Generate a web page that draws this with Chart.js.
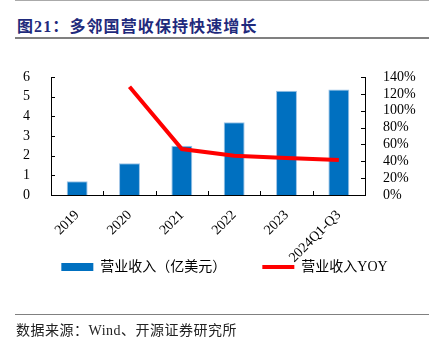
<!DOCTYPE html>
<html>
<head>
<meta charset="utf-8">
<script src="https://cdn.jsdelivr.net/npm/chart.js@4.4.1/dist/chart.umd.min.js"></script>
<style>
  body { margin: 0; background: #fff; }
  #wrap { position: relative; width: 429px; height: 339px; overflow: hidden; font-family: "Liberation Serif", "Noto Sans CJK SC", serif; }
  .rule { position: absolute; left: 15px; right: 0; background: #808080; }
  #title { position: absolute; left: 17px; top: 13px; font-size: 16px; font-weight: bold; color: #1f2a7c; letter-spacing: 1.1px; white-space: nowrap; }
  #source { position: absolute; left: 16px; top: 319px; font-size: 14px; color: #222; white-space: nowrap; letter-spacing: 0.5px; }
  #box { position: absolute; left: 0; top: 45px; width: 429px; height: 278px; }
</style>
</head>
<body>
<div id="wrap">
  <div class="rule" style="top:0;height:1px;background:#aaa"></div>
  <div id="title">图21：多邻国营收保持快速增长</div>
  <div class="rule" style="top:37px;height:2px"></div>
  <div id="box"><canvas id="c"></canvas></div>
  <div class="rule" style="top:314px;height:1px"></div>
  <div id="source">数据来源：Wind、开源证券研究所</div>
</div>
<script>
// values
const categories = ['2019', '2020', '2021', '2022', '2023', '2024Q1-Q3'];
const revenue = [0.70, 1.62, 2.50, 3.70, 5.30, 5.37];          // 亿美元
const revenueYoy = [null, 128.5, 54.5, 46.5, 44.0, 41.5];       // %
const revenueTicks = [0, 1, 2, 3, 4, 5, 6];
const yoyTicks = [0, 20, 40, 60, 80, 100, 120, 140];

const tickFont = { family: '"Liberation Serif", "Noto Sans CJK SC", serif', size: 14 };

// short tick marks drawn inside the plot, like the source chart
const innerTicks = {
  id: 'innerTicks',
  afterDatasetsDraw(chart) {
    const ctx = chart.ctx;
    const x = chart.scales.x, yl = chart.scales.y, yr = chart.scales.y1;
    const area = chart.chartArea;
    ctx.save();
    ctx.strokeStyle = '#000';
    ctx.lineWidth = 1;
    ctx.beginPath();
    yl.ticks.forEach(t => {
      const p = Math.round(yl.getPixelForValue(t.value)) + 0.5;
      ctx.moveTo(area.left, p); ctx.lineTo(area.left + 4, p);
    });
    yr.ticks.forEach(t => {
      const p = Math.round(yr.getPixelForValue(t.value)) + 0.5;
      ctx.moveTo(area.right, p); ctx.lineTo(area.right - 4, p);
    });
    const step = x.getPixelForValue(1) - x.getPixelForValue(0);
    for (let i = 1; i < categories.length; i++) {
      const p = Math.round(x.getPixelForValue(i) - step / 2) + 0.5;
      ctx.moveTo(p, area.bottom); ctx.lineTo(p, area.bottom - 4);
    }
    ctx.stroke();
    ctx.restore();
  }
};

// the legend sits up against the slanted year labels in the source
const liftLegend = {
  id: 'liftLegend',
  afterLayout(chart) {
    const lg = chart.legend;
    const h = lg.height;
    lg.top = chart.chartArea.bottom + 29;
    lg.bottom = lg.top + h;
    lg.left += 10;
    lg.right += 10;
  }
};

new Chart(document.getElementById('c'), {
  data: {
    labels: categories,
    datasets: [
      {
        type: 'line',
        label: '营业收入YOY',
        data: revenueYoy,
        yAxisID: 'y1',
        borderColor: '#ff0000',
        backgroundColor: '#ff0000',
        borderWidth: 4,
        pointRadius: 0,
        tension: 0,
        order: 0
      },
      {
        type: 'bar',
        label: '营业收入（亿美元）',
        data: revenue,
        yAxisID: 'y',
        backgroundColor: '#0070c0',
        borderColor: '#9dc3e6',
        borderWidth: { top: 1, left: 1, right: 1, bottom: 0 },
        barPercentage: 0.4,
        categoryPercentage: 1,
        order: 1
      }
    ]
  },
  plugins: [innerTicks, liftLegend],
  options: {
    responsive: true,
    maintainAspectRatio: false,
    animation: false,
    layout: { padding: { top: 32, left: 0, right: 0, bottom: 0 } },
    plugins: {
      tooltip: { enabled: false },
      legend: {
        position: 'bottom',
        reverse: true,
        labels: {
          color: '#222',
          font: { family: '"Liberation Serif", "Noto Sans CJK SC", serif', size: 14 },
          usePointStyle: true,
          pointStyleWidth: 32,
          boxHeight: 8,
          padding: 36,
          generateLabels(chart) {
            return chart.data.datasets.map((ds, i) => ({
              text: ds.label,
              datasetIndex: i,
              fillStyle: ds.type === 'bar' ? ds.backgroundColor : ds.borderColor,
              strokeStyle: ds.type === 'bar' ? ds.backgroundColor : ds.borderColor,
              lineWidth: ds.type === 'bar' ? 0 : 4,
              pointStyle: ds.type === 'bar' ? 'rect' : 'line',
              hidden: false
            }));
          }
        }
      }
    },
    scales: {
      x: {
        offset: true,
        grid: { display: false },
        border: { display: true, color: '#000', width: 1 },
        ticks: { color: '#000', font: tickFont, minRotation: 45, maxRotation: 45, padding: 4, autoSkip: false },
        afterFit(s) { s.height = 68; }
      },
      y: {
        position: 'left',
        min: 0, max: 6,
        afterBuildTicks(s) { s.ticks = revenueTicks.map(v => ({ value: v })); },
        grid: { display: false },
        border: { display: true, color: '#000', width: 1 },
        ticks: { color: '#000', font: tickFont, padding: 13, autoSkip: false },
        afterFit(s) { s.width = 51; }
      },
      y1: {
        position: 'right',
        min: 0, max: 140,
        afterBuildTicks(s) { s.ticks = yoyTicks.map(v => ({ value: v })); },
        grid: { display: false },
        border: { display: true, color: '#000', width: 1 },
        ticks: { color: '#000', font: tickFont, padding: 10, autoSkip: false, callback: v => v + '%' },
        afterFit(s) { s.width = 64; }
      }
    }
  }
});
</script>
</body>
</html>
